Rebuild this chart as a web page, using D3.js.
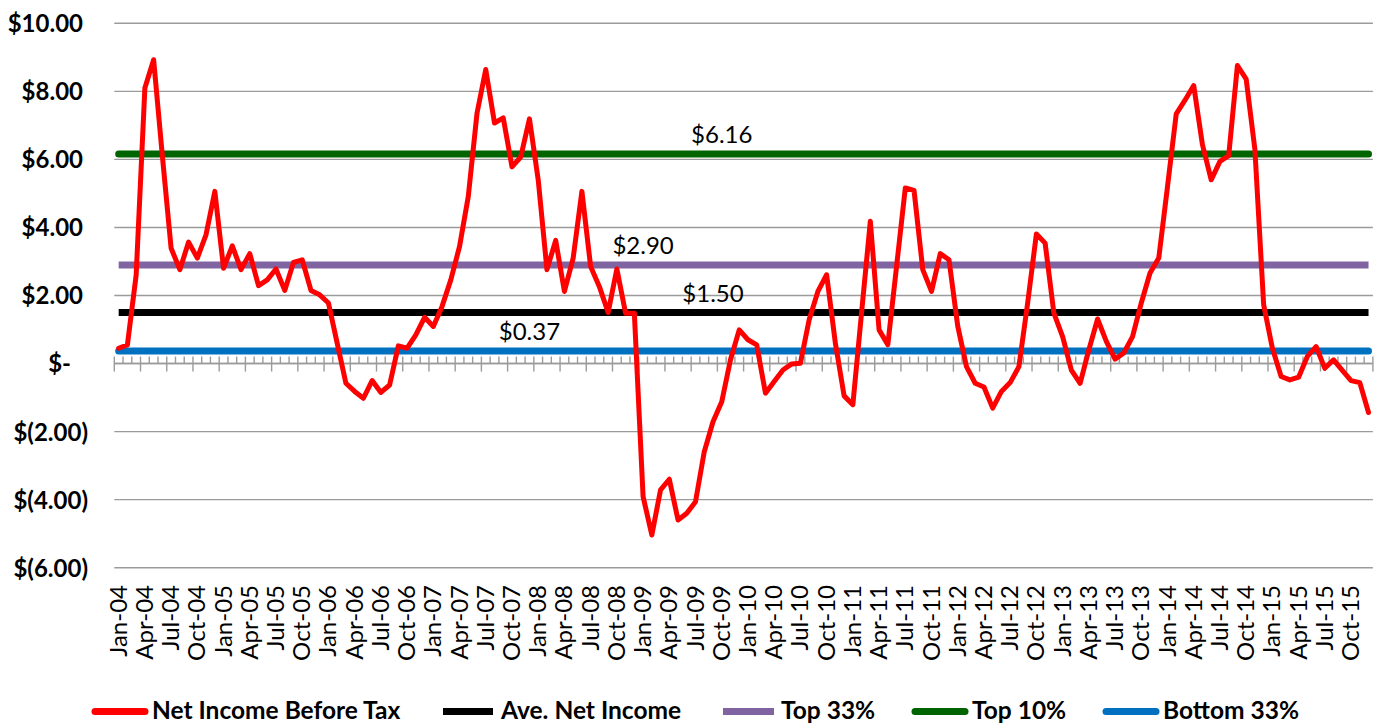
<!DOCTYPE html>
<html>
<head>
<meta charset="utf-8">
<script src="https://cdn.jsdelivr.net/npm/d3@7"></script>
<style>
  html, body { margin: 0; padding: 0; background: #fff; }
  svg { display: block; }
  text { font-family: Lato, "Open Sans", sans-serif; }
</style>
</head>
<body>
<svg id="chart" width="1377" height="723"></svg>
<script>
// Monthly categories, Jan-04 .. Dec-15
const months = [
  "Jan-04","Feb-04","Mar-04","Apr-04","May-04","Jun-04","Jul-04","Aug-04","Sep-04","Oct-04","Nov-04","Dec-04",
  "Jan-05","Feb-05","Mar-05","Apr-05","May-05","Jun-05","Jul-05","Aug-05","Sep-05","Oct-05","Nov-05","Dec-05",
  "Jan-06","Feb-06","Mar-06","Apr-06","May-06","Jun-06","Jul-06","Aug-06","Sep-06","Oct-06","Nov-06","Dec-06",
  "Jan-07","Feb-07","Mar-07","Apr-07","May-07","Jun-07","Jul-07","Aug-07","Sep-07","Oct-07","Nov-07","Dec-07",
  "Jan-08","Feb-08","Mar-08","Apr-08","May-08","Jun-08","Jul-08","Aug-08","Sep-08","Oct-08","Nov-08","Dec-08",
  "Jan-09","Feb-09","Mar-09","Apr-09","May-09","Jun-09","Jul-09","Aug-09","Sep-09","Oct-09","Nov-09","Dec-09",
  "Jan-10","Feb-10","Mar-10","Apr-10","May-10","Jun-10","Jul-10","Aug-10","Sep-10","Oct-10","Nov-10","Dec-10",
  "Jan-11","Feb-11","Mar-11","Apr-11","May-11","Jun-11","Jul-11","Aug-11","Sep-11","Oct-11","Nov-11","Dec-11",
  "Jan-12","Feb-12","Mar-12","Apr-12","May-12","Jun-12","Jul-12","Aug-12","Sep-12","Oct-12","Nov-12","Dec-12",
  "Jan-13","Feb-13","Mar-13","Apr-13","May-13","Jun-13","Jul-13","Aug-13","Sep-13","Oct-13","Nov-13","Dec-13",
  "Jan-14","Feb-14","Mar-14","Apr-14","May-14","Jun-14","Jul-14","Aug-14","Sep-14","Oct-14","Nov-14","Dec-14",
  "Jan-15","Feb-15","Mar-15","Apr-15","May-15","Jun-15","Jul-15","Aug-15","Sep-15","Oct-15","Nov-15","Dec-15"
];

// Net income before tax, per month
const netIncome = [
  0.45, 0.55, 2.60, 8.10, 8.93, 6.10, 3.39, 2.76, 3.57, 3.10, 3.79, 5.06,
  2.80, 3.46, 2.76, 3.23, 2.29, 2.46, 2.78, 2.15, 2.97, 3.05, 2.15, 2.02,
  1.78, 0.60, -0.58, -0.82, -1.02, -0.50, -0.85, -0.63, 0.52, 0.45, 0.84, 1.36,
  1.09, 1.68, 2.46, 3.44, 4.91, 7.36, 8.64, 7.07, 7.22, 5.78, 6.07, 7.19,
  5.40, 2.76, 3.62, 2.12, 3.10, 5.06, 2.85, 2.26, 1.50, 2.78, 1.48, 1.48,
  -3.91, -5.04, -3.71, -3.40, -4.60, -4.40, -4.06, -2.59, -1.71, -1.12, 0.11, 0.99,
  0.70, 0.55, -0.87, -0.53, -0.19, -0.01, 0.01, 1.29, 2.12, 2.61, 0.60, -0.95,
  -1.21, 1.50, 4.18, 0.99, 0.55, 2.85, 5.16, 5.09, 2.76, 2.12, 3.23, 3.05,
  1.10, -0.09, -0.58, -0.69, -1.31, -0.82, -0.56, -0.09, 1.78, 3.81, 3.54, 1.48,
  0.79, -0.19, -0.58, 0.40, 1.31, 0.65, 0.13, 0.31, 0.79, 1.78, 2.66, 3.10,
  5.20, 7.34, 7.74, 8.17, 6.43, 5.40, 5.94, 6.11, 8.76, 8.36, 6.29, 1.73,
  0.45, -0.38, -0.48, -0.40, 0.21, 0.50, -0.14, 0.11, -0.20, -0.50, -0.56, -1.44
];

// Reference levels drawn as flat lines, with the month their value label sits over
const levelNames  = ["Ave. Net Income", "Top 33%", "Top 10%", "Bottom 33%"];
const levelValues = [1.50, 2.90, 6.16, 0.37];
const levelLabelMonths = ["Sep-09", "Jan-09", "Oct-09", "Dec-07"];
const levelColors = ["#000000", "#8064A2", "#006400", "#0070C0"];
const levelCaps   = ["butt", "butt", "round", "round"];

// Y axis ticks
const yTicks = [-6, -4, -2, 0, 2, 4, 6, 8, 10];

const svg = d3.select("#chart");

const plot = { left: 114.3, right: 1372.9, top: 23.3, bottom: 567.7 };

const x = d3.scaleBand().domain(months).range([plot.left, plot.right]).padding(0);
const xc = m => x(m) + x.bandwidth() / 2;
const y = d3.scaleLinear().domain([-6, 10]).range([plot.bottom, plot.top]);

// Horizontal gridlines
svg.append("g")
  .attr("class", "grid")
  .selectAll("line")
  .data(yTicks)
  .join("line")
  .attr("x1", plot.left).attr("x2", plot.right)
  .attr("y1", d => y(d)).attr("y2", d => y(d))
  .attr("stroke", "#9b9b9b").attr("stroke-width", 1.4);

// Y axis labels in accounting style
const fmtAcct = d => {
  if (d === 0) return "$-";
  const s = "$" + d3.format(".2f")(Math.abs(d));
  return d < 0 ? "$(" + d3.format(".2f")(Math.abs(d)) + ")" : s;
};
const yAxis = d3.axisLeft(y).tickValues(yTicks).tickSize(0).tickFormat(fmtAcct);
const yg = svg.append("g").call(yAxis);
yg.select(".domain").remove();
yg.selectAll(".tick text")
  .attr("x", d => d === 0 ? 71 : (d < 0 ? 88 : 83))
  .attr("dy", "0.35em")
  .attr("text-anchor", "end")
  .style("font-family", "Lato, sans-serif")
  .style("font-size", "24px")
  .style("font-weight", "700")
  .attr("fill", "#000");

// Category axis at zero with month ticks
const y0 = y(0);
const xAxisG = svg.append("g").attr("class", "x-axis");
xAxisG.append("line")
  .attr("x1", plot.left).attr("x2", plot.right)
  .attr("y1", y0).attr("y2", y0)
  .attr("stroke", "#9b9b9b").attr("stroke-width", 1.4);
const edges = months.map(m => x(m)).concat([plot.right]);
xAxisG.selectAll("line.tick")
  .data(edges)
  .join("line")
  .attr("class", "tick")
  .attr("x1", d => d).attr("x2", d => d)
  .attr("y1", y0 - 7)
  .attr("y2", (d, i) => i % 3 === 0 ? y0 + 8 : y0)
  .attr("stroke", "#9b9b9b").attr("stroke-width", 1.4);

// Rotated month labels along the bottom
const labelMonths = months.filter((m, i) => i % 3 === 0);
const xAxis = d3.axisBottom(x).tickValues(labelMonths).tickSize(0);
const xg = svg.append("g").attr("transform", `translate(0,585)`).call(xAxis);
xg.select(".domain").remove();
xg.selectAll(".tick text")
  .attr("transform", "translate(8,0) rotate(-90)")
  .attr("x", 0).attr("y", 0).attr("dy", 0)
  .attr("text-anchor", "end")
  .style("font-family", "Lato, sans-serif")
  .style("font-size", "24px")
  .attr("fill", "#000");

// Net income line
const line = d3.line()
  .x((d, i) => xc(months[i]))
  .y(d => y(d));

// Flat reference lines
const first = months[0], last = months[months.length - 1];
const levels = svg.append("g").attr("class", "levels");
levelValues.forEach((v, k) => {
  levels.append("line")
    .attr("x1", xc(first)).attr("x2", xc(last))
    .attr("y1", y(v)).attr("y2", y(v))
    .attr("stroke", levelColors[k])
    .attr("stroke-width", 7)
    .attr("stroke-linecap", levelCaps[k]);
});

svg.append("path")
  .datum(netIncome)
  .attr("d", line)
  .attr("fill", "none")
  .attr("stroke", "#FF0000")
  .attr("stroke-width", 5)
  .attr("stroke-linejoin", "round")
  .attr("stroke-linecap", "round");

// Value labels above the reference lines
levelValues.forEach((v, k) => {
  svg.append("text")
    .attr("x", xc(levelLabelMonths[k]))
    .attr("y", y(v) - 11)
    .attr("text-anchor", "middle")
    .style("font-size", "24px")
    .attr("fill", "#000")
    .text("$" + d3.format(".2f")(v));
});

// Legend
const legendItems = [
  { name: "Net Income Before Tax", color: "#FF0000", cap: "round", x1: 95, x2: 145, tx: 152 },
  { name: levelNames[0], color: levelColors[0], cap: levelCaps[0], x1: 443, x2: 493, tx: 501 },
  { name: levelNames[1], color: levelColors[1], cap: levelCaps[1], x1: 723, x2: 774, tx: 781 },
  { name: levelNames[2], color: levelColors[2], cap: levelCaps[2], x1: 915, x2: 965, tx: 972 },
  { name: levelNames[3], color: levelColors[3], cap: levelCaps[3], x1: 1106, x2: 1156, tx: 1163 }
];
const lg = svg.append("g").attr("class", "legend");
legendItems.forEach(it => {
  lg.append("line")
    .attr("x1", it.x1).attr("x2", it.x2)
    .attr("y1", 711.5).attr("y2", 711.5)
    .attr("stroke", it.color).attr("stroke-width", 7)
    .attr("stroke-linecap", it.cap);
  lg.append("text")
    .attr("x", it.tx).attr("y", 719)
    .style("font-size", "24.5px")
    .style("font-weight", "700")
    .attr("fill", "#000")
    .text(it.name);
});
</script>
</body>
</html>
